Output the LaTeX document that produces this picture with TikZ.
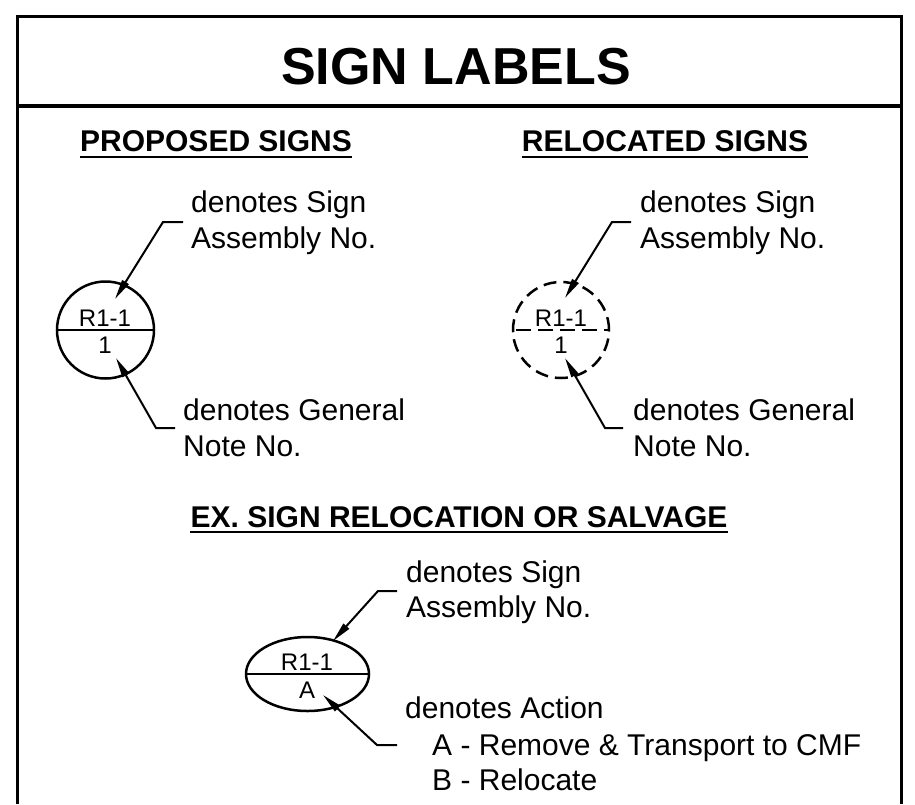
\documentclass[tikz,border=0pt]{standalone}
\usepackage{fontspec}
\setmainfont{Liberation Sans}
\usetikzlibrary{arrows.meta,shapes.geometric}
\begin{document}
\begin{tikzpicture}[x=1pt,y=-1pt,
  body/.style={font=\fontsize{30}{36}\selectfont, inner sep=0pt, anchor=base west},
  head/.style={font=\fontsize{30}{36}\selectfont\bfseries, inner sep=0pt, anchor=base},
  small/.style={font=\fontsize{24}{28}\selectfont, inner sep=0pt, anchor=base},
  leader/.style={line width=2pt, -{Triangle[length=20pt,width=7.5pt]}},
  frameline/.style={line width=3pt},
  ulin/.style={line width=2.5pt},
  signsym/.style={draw, line width=2.5pt, inner sep=0pt},
  dashsym/.style={dash pattern=on 13pt off 7pt},
]
\useasboundingbox (0,0) rectangle (915,804);
% frame
\coordinate (fbl) at (17,804);
\coordinate (ftl) at (17,16);
\coordinate (ftr) at (901,16);
\coordinate (fbr) at (901,804);
\draw[frameline] (fbl) -- (ftl) -- (ftr) -- (fbr);
\coordinate (dl) at (17,106);
\coordinate (dr) at (901,106);
\draw[line width=4pt] (dl) -- (dr);
% title
\node[font=\fontsize{52}{62}\selectfont\bfseries, inner sep=0pt, anchor=base] (title) at (456,84) {SIGN LABELS};
% headings
\node[head] (ph) at (216,151) {PROPOSED SIGNS};
\draw[ulin] ([yshift=-6pt]ph.base west) -- ([yshift=-6pt]ph.base east);
\node[head] (rh) at (665,151) {RELOCATED SIGNS};
\draw[ulin] ([yshift=-6pt]rh.base west) -- ([yshift=-6pt]rh.base east);
\node[head] (eh) at (459,527) {EX. SIGN RELOCATION OR SALVAGE};
\draw[ulin] ([yshift=-5pt]eh.base west) -- ([yshift=-5pt]eh.base east);

% proposed sign
\node[signsym, circle, minimum size=97pt] (pc) at (105.5,330) {};
\draw[line width=2.5pt] (pc.west) -- (pc.east);
\node[small] (pctop) at (105,326) {R1-1};
\node[small] (pcbot) at (105,353) {1};
\node[body] (pt1) at (191,212) {denotes Sign};
\node[body] (pt2) at (191,248) {Assembly No.};
\node[body] (pb1) at (183,420) {denotes General};
\node[body] (pb2) at (183,456) {Note No.};
\coordinate (pua) at (183,222);
\coordinate (pub) at (163,222);
\coordinate (put) at (115,299);
\draw[leader] (pua) -- (pub) -- (put);
\coordinate (pla) at (175,428);
\coordinate (plb) at (156,428);
\coordinate (plt) at (116,358);
\draw[leader] (pla) -- (plb) -- (plt);

% relocated sign
\node[signsym, dashsym, circle, minimum size=96pt] (rc) at (561,330) {};
\coordinate (rcl) at (513,330);
\coordinate (rcr) at (609,330);
\draw[line width=2.5pt, dash pattern=on 15pt off 7pt, dash phase=-3pt] (rcl) -- (rcr);
\node[small] (rctop) at (561,326) {R1-1};
\node[small] (rcbot) at (561,353) {1};
\node[body] (rt1) at (640,212) {denotes Sign};
\node[body] (rt2) at (640,248) {Assembly No.};
\node[body] (rb1) at (633,420) {denotes General};
\node[body] (rb2) at (633,456) {Note No.};
\coordinate (rua) at (631,222);
\coordinate (rub) at (612,222);
\coordinate (rut) at (565,298);
\draw[leader] (rua) -- (rub) -- (rut);
\coordinate (rla) at (623,428);
\coordinate (rlb) at (605,428);
\coordinate (rlt) at (565,358);
\draw[leader] (rla) -- (rlb) -- (rlt);

% existing sign
\node[signsym, ellipse, minimum width=123pt, minimum height=74pt] (ec) at (307.5,674) {};
\draw[line width=2.5pt] (ec.west) -- (ec.east);
\node[small] (ectop) at (307,670) {R1-1};
\node[small] (ecbot) at (307,698) {A};
\node[body] (et1) at (406,582) {denotes Sign};
\node[body] (et2) at (406,617) {Assembly No.};
\node[body] (eb1) at (405,718) {denotes Action};
\node[body] (eb2) at (432,755) {A - Remove \& Transport to CMF};
\node[body] (eb3) at (432,790) {B - Relocate};
\coordinate (eua) at (397,591);
\coordinate (eub) at (378,591);
\coordinate (eut) at (333,641);
\draw[leader] (eua) -- (eub) -- (eut);
\coordinate (ela) at (397,745);
\coordinate (elb) at (377,745);
\coordinate (elt) at (323,695);
\draw[leader] (ela) -- (elb) -- (elt);
\end{tikzpicture}
\end{document}
